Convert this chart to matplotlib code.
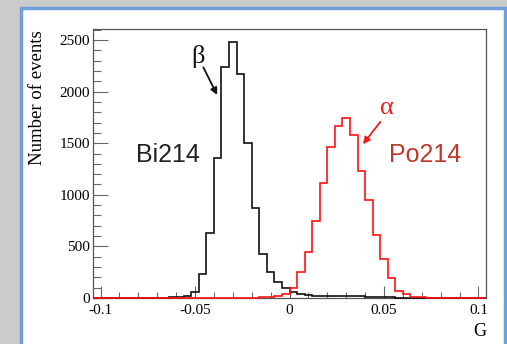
import numpy as np
import matplotlib.pyplot as plt
from matplotlib.patches import Rectangle
from matplotlib.ticker import MultipleLocator

# histogram binning: 52 bins of 0.004 from -0.104 to 0.104
bin_edges = np.linspace(-0.104, 0.104, 53)

bi214_counts = [0, 0, 0, 0, 0, 0, 0, 0, 0, 2,
                5, 10, 22, 58, 232, 634, 1352, 2235, 2483, 2168,
                1507, 876, 424, 252, 155, 100, 58, 34, 25, 20,
                18, 16, 15, 18, 20, 16, 12, 10, 8, 6,
                4, 3, 2, 1, 0, 0, 0, 0, 0, 0,
                0, 0]
po214_counts = [0, 0, 0, 0, 0, 0, 0, 0, 0, 0,
                0, 0, 0, 0, 0, 0, 0, 1, 2, 3,
                3, 4, 5, 8, 20, 38, 100, 252, 450, 747,
                1119, 1460, 1666, 1745, 1578, 1226, 948, 610, 382, 192,
                68, 40, 14, 8, 4, 2, 1, 0, 0, 0,
                0, 0]

x_ticks = [-0.1, -0.05, 0, 0.05, 0.1]
x_ticklabels = ["-0.1", "-0.05", "0", "0.05", "0.1"]
y_ticks = [0, 500, 1000, 1500, 2000, 2500]

serif = ["Liberation Serif", "DejaVu Serif"]
sans = ["Liberation Sans", "DejaVu Sans"]

W, H = 507, 344
fig = plt.figure(figsize=(W / 100, H / 100), dpi=100, facecolor="#cbcbcb")

# white panel with blue border, kept behind the axes
panel = Rectangle((21 / W, -0.05), 484 / W, 1.05 - 8 / H,
                  transform=fig.transFigure, facecolor="white",
                  edgecolor="#6f9fd6", linewidth=2.5, zorder=-10)
fig.patches.append(panel)

ax = fig.add_axes([93 / W, 1 - 298 / H, 393 / W, 269 / H])
ax.set_facecolor("white")
ax.set_zorder(1)

ax.stairs(bi214_counts, bin_edges, color="#111111", linewidth=1.2, clip_on=False, zorder=3)
ax.stairs(po214_counts, bin_edges, color="#ff1010", linewidth=1.2, clip_on=False, zorder=4)

ax.set_xlim(-0.104, 0.104)
ax.set_ylim(0, 2607)

ax.set_xticks(x_ticks)
ax.set_xticklabels(x_ticklabels, family=serif, fontsize=11)
ax.set_yticks(y_ticks)
ax.set_yticklabels([str(v) for v in y_ticks], family=serif, fontsize=11)
ax.xaxis.set_minor_locator(MultipleLocator(0.01))
ax.yaxis.set_minor_locator(MultipleLocator(100))
ax.tick_params(axis="x", which="major", direction="in", length=9, width=0.8,
               color="#666666", pad=4, top=False)
ax.tick_params(axis="x", which="minor", direction="in", length=4.5, width=0.8,
               color="#666666", top=False)
ax.tick_params(axis="y", which="major", direction="in", length=11, width=0.8,
               color="#666666", pad=2, right=False)
ax.tick_params(axis="y", which="minor", direction="in", length=5.5, width=0.8,
               color="#666666", right=False)
for s in ax.spines.values():
    s.set_color("#555555")
    s.set_linewidth(0.9)

fig.text(38 / W, 1 - 30 / H, "Number of events", rotation=90, ha="center",
         va="top", family=serif, fontsize=13.5)
fig.text(486 / W, 1 - 331 / H, "G", ha="right", va="center", family=serif, fontsize=13)

ax.text(-0.0815, 1385, "Bi214", family=sans, fontsize=18, color="#222222",
        ha="left", va="center")
ax.text(0.0525, 1385, "Po214", family=sans, fontsize=18, color="#c0392b",
        ha="left", va="center")

ax.text(-0.0483, 2345, "β", family=serif, fontsize=19, color="#111111",
        ha="center", va="center")
ax.annotate("", xy=(-0.0383, 1968), xytext=(-0.0456, 2236),
            arrowprops=dict(arrowstyle="-|>", color="#111111", lw=1.3,
                            mutation_scale=10, shrinkA=0, shrinkB=0))
ax.text(0.0514, 1840, "α", family=serif, fontsize=19, color="#e8201c",
        ha="center", va="center")
ax.annotate("", xy=(0.0389, 1491), xytext=(0.0481, 1707),
            arrowprops=dict(arrowstyle="-|>", color="#e8201c", lw=1.3,
                            mutation_scale=10, shrinkA=0, shrinkB=0))

fig.savefig("out.png", dpi=100, facecolor=fig.get_facecolor())
